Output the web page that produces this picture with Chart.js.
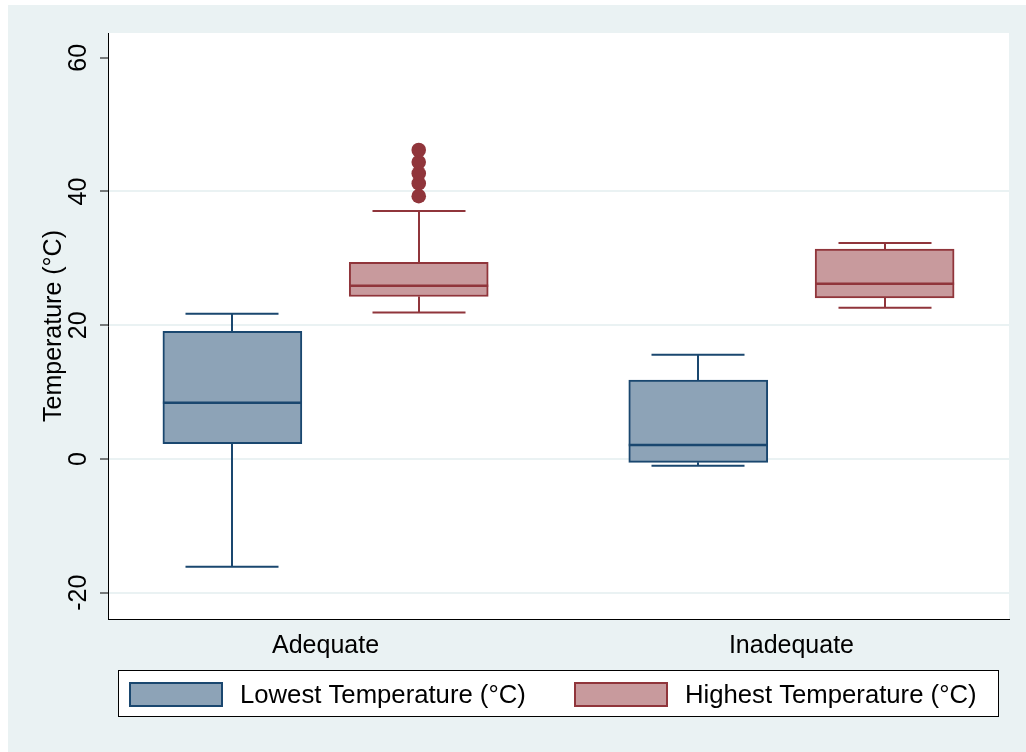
<!DOCTYPE html>
<html>
<head>
<meta charset="utf-8">
<script src="https://cdn.jsdelivr.net/npm/chart.js@4.4.1/dist/chart.umd.min.js"></script>
<style>
  html, body { margin: 0; padding: 0; background: #fff; }
</style>
</head>
<body>
<canvas id="boxplot" width="1026" height="752"></canvas>
<script>
(function () {
    "use strict";

    // Data
    var categories = ["Adequate", "Inadequate"];
    var seriesNames = ["Lowest Temperature (°C)", "Highest Temperature (°C)"];
    var yTicks = [-20, 0, 20, 40, 60];

    // Lowest temperature: whisker low, q1, median, q3, whisker high
    var lowestMin = [-16.1, -1.0];
    var lowestQ1 = [2.3, -0.5];
    var lowestMedian = [8.4, 2.1];
    var lowestQ3 = [19.1, 11.8];
    var lowestMax = [21.7, 15.6];

    // Highest temperature
    var highestMin = [21.9, 22.6];
    var highestQ1 = [24.3, 24.1];
    var highestMedian = [25.9, 26.2];
    var highestQ3 = [29.4, 31.4];
    var highestMax = [37.1, 32.3];

    // outside values
    var highestOutliers = [[39.3, 41.2, 42.7, 44.4, 46.2], []];
    var lowestOutliers = [[], []];

    var navy = "#1A476F", navyFill = "#8DA3B7";
    var maroon = "#90353B", maroonFill = "#C89A9D";
    var bluish = "#EAF2F3";
    var fontFamily = "'Liberation Sans', Arial, sans-serif";

    var shift = 0.2;       // offset of each series from category centre
    var boxWidth = 139;    // px
    var capWidth = 93;     // px

    Chart.defaults.font.family = fontFamily;
    Chart.defaults.color = "#000";

    var series = [
        {min: lowestMin, q1: lowestQ1, med: lowestMedian, q3: lowestQ3, max: lowestMax, off: -shift, color: navy},
        {min: highestMin, q1: highestQ1, med: highestMedian, q3: highestQ3, max: highestMax, off: shift, color: maroon}
    ];

    function boxData(q1, q3, off) {
        return categories.map(function (c, i) {
            return {x: i + 1 + off, y: [q1[i], q3[i]]};
        });
    }

    function outlierData(list, off) {
        var pts = [];
        list.forEach(function (vals, i) {
            vals.forEach(function (v) { pts.push({x: i + 1 + off, y: v}); });
        });
        return pts;
    }

    // Background: graph region + white plot region
    var background = {
        id: "background",
        beforeDraw: function (chart) {
            var ctx = chart.ctx, a = chart.chartArea;
            ctx.save();
            ctx.fillStyle = "#fff";
            ctx.fillRect(0, 0, chart.width, chart.height);
            ctx.fillStyle = bluish;
            ctx.fillRect(8, 5, chart.width - 8, chart.height - 5);
            ctx.fillStyle = "#fff";
            ctx.fillRect(a.left, a.top, a.right - a.left, a.bottom - a.top);
            ctx.restore();
        }
    };

    // Whiskers, caps and median lines
    var boxParts = {
        id: "boxParts",
        beforeDatasetsDraw: function (chart) {
            var ctx = chart.ctx, xs = chart.scales.x, ys = chart.scales.y;
            ctx.save();
            ctx.lineWidth = 2;
            series.forEach(function (s) {
                ctx.strokeStyle = s.color;
                categories.forEach(function (c, i) {
                    var cx = Math.round(xs.getPixelForValue(i + 1 + s.off));
                    var yMin = ys.getPixelForValue(s.min[i]);
                    var yMax = ys.getPixelForValue(s.max[i]);
                    var yQ1 = ys.getPixelForValue(s.q1[i]);
                    var yQ3 = ys.getPixelForValue(s.q3[i]);
                    ctx.beginPath();
                    ctx.moveTo(cx, yQ3); ctx.lineTo(cx, yMax);
                    ctx.moveTo(cx, yQ1); ctx.lineTo(cx, yMin);
                    ctx.moveTo(cx - capWidth / 2, yMax); ctx.lineTo(cx + capWidth / 2, yMax);
                    ctx.moveTo(cx - capWidth / 2, yMin); ctx.lineTo(cx + capWidth / 2, yMin);
                    ctx.stroke();
                });
            });
            ctx.restore();
        },
        afterDatasetsDraw: function (chart) {
            var ctx = chart.ctx, xs = chart.scales.x, ys = chart.scales.y;
            ctx.save();
            ctx.lineWidth = 2.5;
            series.forEach(function (s) {
                ctx.strokeStyle = s.color;
                categories.forEach(function (c, i) {
                    var cx = xs.getPixelForValue(i + 1 + s.off);
                    var y = ys.getPixelForValue(s.med[i]);
                    ctx.beginPath();
                    ctx.moveTo(cx - boxWidth / 2, y);
                    ctx.lineTo(cx + boxWidth / 2, y);
                    ctx.stroke();
                });
            });
            ctx.restore();
        }
    };

    // Stata style legend box
    var legendBox = {
        id: "legendBox",
        afterDraw: function (chart) {
            var ctx = chart.ctx;
            ctx.save();
            ctx.fillStyle = "#fff";
            ctx.fillRect(118, 670, 880, 47);
            ctx.strokeStyle = "#000";
            ctx.lineWidth = 1;
            ctx.strokeRect(118.5, 670.5, 880, 46);

            var items = [
                {x: 129, tx: 240, fill: navyFill, line: navy},
                {x: 574, tx: 685, fill: maroonFill, line: maroon}
            ];
            ctx.font = "25.7px " + fontFamily;
            ctx.textBaseline = "alphabetic";
            ctx.textAlign = "left";
            items.forEach(function (it, k) {
                ctx.fillStyle = it.fill;
                ctx.fillRect(it.x, 682, 94, 25);
                ctx.strokeStyle = it.line;
                ctx.lineWidth = 2;
                ctx.strokeRect(it.x + 1, 683, 92, 23);
                ctx.fillStyle = "#000";
                ctx.fillText(seriesNames[k], it.tx, 703);
            });
            ctx.restore();
        }
    };

    var ctx = document.getElementById("boxplot").getContext("2d");
    var myChart = new Chart(ctx, {
        type: "bar",
        data: {
            datasets: [{
                label: seriesNames[0],
                data: boxData(lowestQ1, lowestQ3, -shift),
                backgroundColor: navyFill,
                borderColor: navy,
                borderWidth: 2,
                borderSkipped: false,
                barThickness: boxWidth,
                grouped: false
            }, {
                label: seriesNames[1],
                data: boxData(highestQ1, highestQ3, shift),
                backgroundColor: maroonFill,
                borderColor: maroon,
                borderWidth: 2,
                borderSkipped: false,
                barThickness: boxWidth,
                grouped: false
            }, {
                type: "scatter",
                label: "outliers low",
                data: outlierData(lowestOutliers, -shift),
                pointRadius: 7.3,
                backgroundColor: navy,
                borderWidth: 0
            }, {
                type: "scatter",
                label: "outliers high",
                data: outlierData(highestOutliers, shift),
                pointRadius: 7.3,
                backgroundColor: maroon,
                borderWidth: 0
            }]
        },
        options: {
            responsive: false,
            animation: false,
            layout: {padding: {left: 8, top: 33, right: 17, bottom: 83}},
            plugins: {
                legend: {display: false},
                tooltip: {enabled: false}
            },
            scales: {
                x: {
                    type: "linear",
                    min: 0.533,
                    max: 2.467,
                    offset: false,
                    afterBuildTicks: function (s) {
                        s.ticks = categories.map(function (c, i) { return {value: i + 1}; });
                    },
                    afterFit: function (s) { s.height = 50; },
                    grid: {display: false},
                    border: {color: "#000", width: 1},
                    ticks: {
                        autoSkip: false,
                        maxRotation: 0,
                        padding: 4,
                        font: {size: 25},
                        callback: function (v) { return categories[Math.round(v) - 1]; }
                    }
                },
                y: {
                    min: -23.93,
                    max: 63.7,
                    afterBuildTicks: function (s) {
                        s.ticks = yTicks.map(function (v) { return {value: v}; });
                    },
                    afterFit: function (s) { s.width = 100; },
                    grid: {
                        color: function (c) {
                            return c.tick && c.tick.value === 60 ? "rgba(0,0,0,0)" : bluish;
                        },
                        lineWidth: 2,
                        tickLength: 8,
                        tickColor: "#000",
                        tickWidth: 1
                    },
                    border: {color: "#000", width: 1},
                    ticks: {
                        minRotation: 90,
                        maxRotation: 90,
                        crossAlign: "center",
                        padding: 3,
                        font: {size: 25}
                    },
                    title: {
                        display: true,
                        text: "Temperature (°C)",
                        font: {size: 25},
                        padding: {top: 31}
                    }
                }
            }
        },
        plugins: [background, boxParts, legendBox]
    });
})();
</script>
</body>
</html>
